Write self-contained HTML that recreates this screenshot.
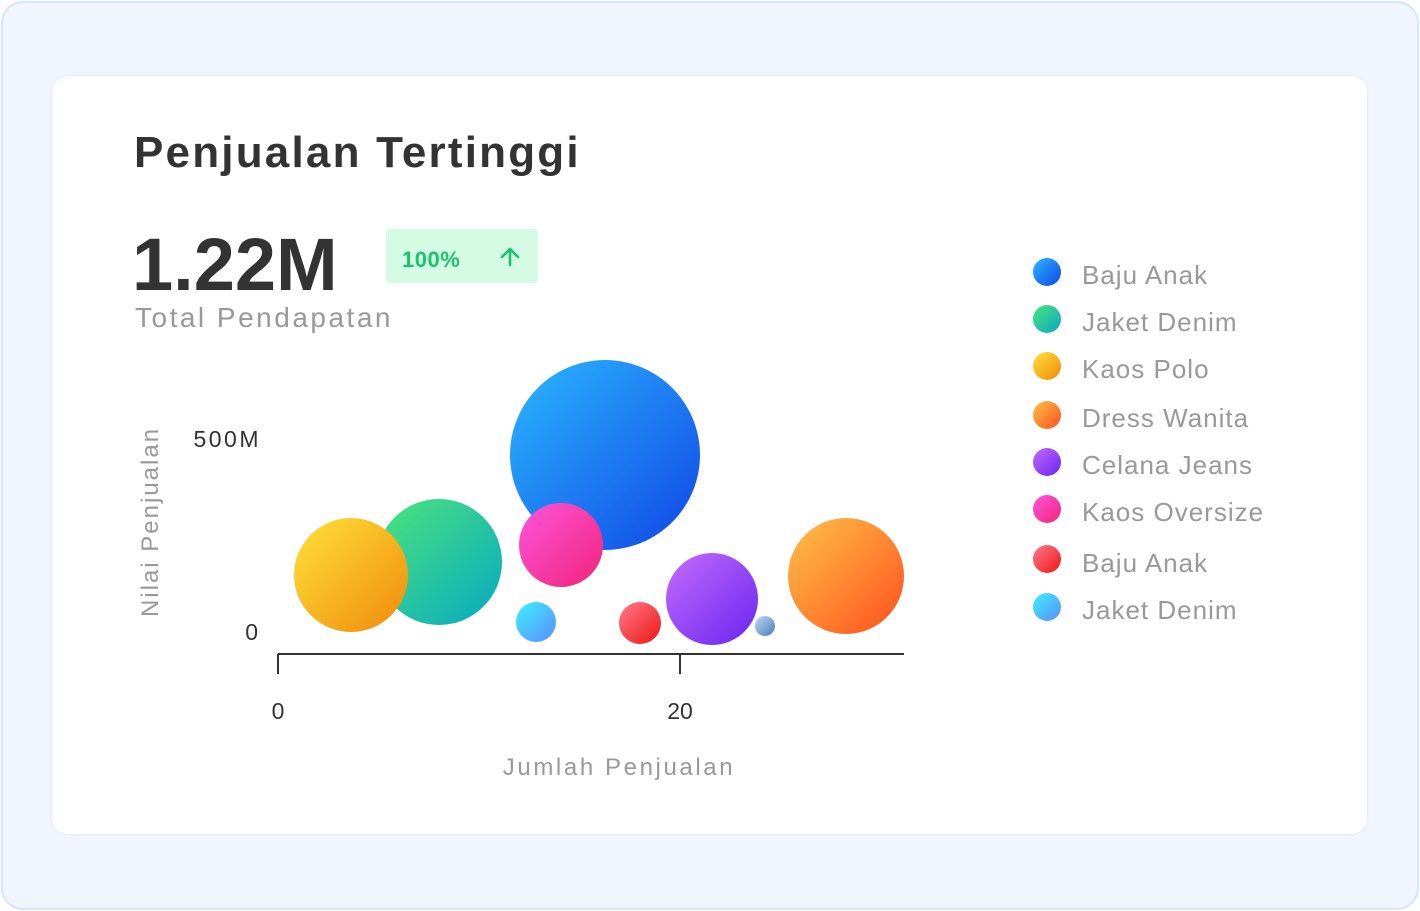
<!DOCTYPE html>
<html><head><meta charset="utf-8"><style>
html,body{margin:0;padding:0;}
body{width:1420px;height:911px;background:#fff;font-family:"Liberation Sans",sans-serif;position:relative;overflow:hidden;}
.outer{position:absolute;left:1px;top:1px;width:1414px;height:905px;background:#f1f6fe;border:2px solid #d3e6fb;border-radius:22px;}
.card{position:absolute;left:52px;top:76px;width:1315px;height:758px;background:#fff;border-radius:16px;box-shadow:0 0 3px rgba(180,200,230,.4);}
.t{position:absolute;white-space:nowrap;}
</style></head><body>
<div class="outer"></div>
<div class="card"></div>
<div class="t" style="left:134px;top:128px;font-size:44px;font-weight:bold;color:#333;letter-spacing:2.2px;">Penjualan Tertinggi</div>
<div class="t" style="left:132px;top:222px;font-size:74px;font-weight:bold;color:#333;letter-spacing:0px;">1.22M</div>
<div class="t" style="left:135px;top:302px;font-size:28px;color:#999;letter-spacing:2.5px;">Total Pendapatan</div>
<div style="position:absolute;left:386px;top:229px;width:152px;height:54px;background:#d6fbe4;border-radius:4px;"></div>
<div class="t" style="left:402px;top:247px;font-size:22px;font-weight:bold;color:#19c46a;letter-spacing:0.5px;">100%</div>
<svg width="1420" height="911" style="position:absolute;left:0;top:0">
<defs>
<linearGradient id="gb" x1="0" y1="0" x2="1" y2="1"><stop offset="0" stop-color="#2bb8ff"/><stop offset="1" stop-color="#1145e6"/></linearGradient>
<linearGradient id="gg" x1="0" y1="0" x2="1" y2="1"><stop offset="0" stop-color="#4ee57a"/><stop offset="1" stop-color="#05a8c2"/></linearGradient>
<linearGradient id="gy" x1="0" y1="0" x2="1" y2="1"><stop offset="0" stop-color="#ffe13a"/><stop offset="1" stop-color="#ef8a0a"/></linearGradient>
<linearGradient id="go" x1="0" y1="0" x2="1" y2="1"><stop offset="0" stop-color="#ffc24a"/><stop offset="1" stop-color="#ff4f1c"/></linearGradient>
<linearGradient id="gp" x1="0" y1="0" x2="1" y2="1"><stop offset="0" stop-color="#c46cff"/><stop offset="1" stop-color="#6a25ee"/></linearGradient>
<linearGradient id="gk" x1="0" y1="0" x2="1" y2="1"><stop offset="0" stop-color="#ff55dd"/><stop offset="1" stop-color="#f0247a"/></linearGradient>
<linearGradient id="gr" x1="0" y1="0" x2="1" y2="1"><stop offset="0" stop-color="#ff7a8a"/><stop offset="1" stop-color="#ee1616"/></linearGradient>
<linearGradient id="gc" x1="0" y1="0" x2="1" y2="1"><stop offset="0" stop-color="#3ef0ff"/><stop offset="1" stop-color="#5a8dff"/></linearGradient>
<linearGradient id="gs" x1="0" y1="0" x2="1" y2="1"><stop offset="0" stop-color="#b8d8f6"/><stop offset="1" stop-color="#4f7cb8"/></linearGradient>
</defs>
<path d="M510 265 L510 249 M502 257 L510 249 L518 257" stroke="#19c46a" stroke-width="2.6" fill="none" stroke-linecap="round"/>
<circle cx="605" cy="455" r="95" fill="url(#gb)"/>
<circle cx="439" cy="562" r="63" fill="url(#gg)"/>
<circle cx="351" cy="575" r="57" fill="url(#gy)"/>
<circle cx="561" cy="545" r="42" fill="url(#gk)"/>
<circle cx="536" cy="622" r="20" fill="url(#gc)"/>
<circle cx="640" cy="623" r="21" fill="url(#gr)"/>
<circle cx="712" cy="599" r="46" fill="url(#gp)"/>
<circle cx="765" cy="626" r="10" fill="url(#gs)"/>
<circle cx="846" cy="576" r="58" fill="url(#go)"/>
<path d="M278 654 L904 654 M278 654 L278 674 M680 654 L680 674" stroke="#333" stroke-width="2" fill="none"/>
<g font-family="Liberation Sans, sans-serif" font-size="23" fill="#333">
<text x="278" y="719" text-anchor="middle">0</text>
<text x="680" y="719" text-anchor="middle">20</text>
<text x="261" y="447" text-anchor="end" letter-spacing="2.5">500M</text>
<text x="258" y="640" text-anchor="end">0</text>
</g>
<text x="619" y="775" text-anchor="middle" font-family="Liberation Sans, sans-serif" font-size="24" fill="#999" letter-spacing="2.6">Jumlah Penjualan</text>
<text transform="translate(158,522) rotate(-90)" text-anchor="middle" font-family="Liberation Sans, sans-serif" font-size="24" fill="#999" letter-spacing="2">Nilai Penjualan</text>
<circle cx="1047" cy="272" r="14" fill="url(#gb)"/>
<circle cx="1047" cy="319" r="14" fill="url(#gg)"/>
<circle cx="1047" cy="366" r="14" fill="url(#gy)"/>
<circle cx="1047" cy="415" r="14" fill="url(#go)"/>
<circle cx="1047" cy="462" r="14" fill="url(#gp)"/>
<circle cx="1047" cy="509" r="14" fill="url(#gk)"/>
<circle cx="1047" cy="559" r="14" fill="url(#gr)"/>
<circle cx="1047" cy="607" r="14" fill="url(#gc)"/>
<g font-family="Liberation Sans, sans-serif" font-size="26" fill="#999" letter-spacing="1">
<text x="1082" y="284">Baju Anak</text>
<text x="1082" y="331">Jaket Denim</text>
<text x="1082" y="378">Kaos Polo</text>
<text x="1082" y="427">Dress Wanita</text>
<text x="1082" y="474">Celana Jeans</text>
<text x="1082" y="521">Kaos Oversize</text>
<text x="1082" y="572">Baju Anak</text>
<text x="1082" y="619">Jaket Denim</text>
</g>
</svg>
</body></html>
